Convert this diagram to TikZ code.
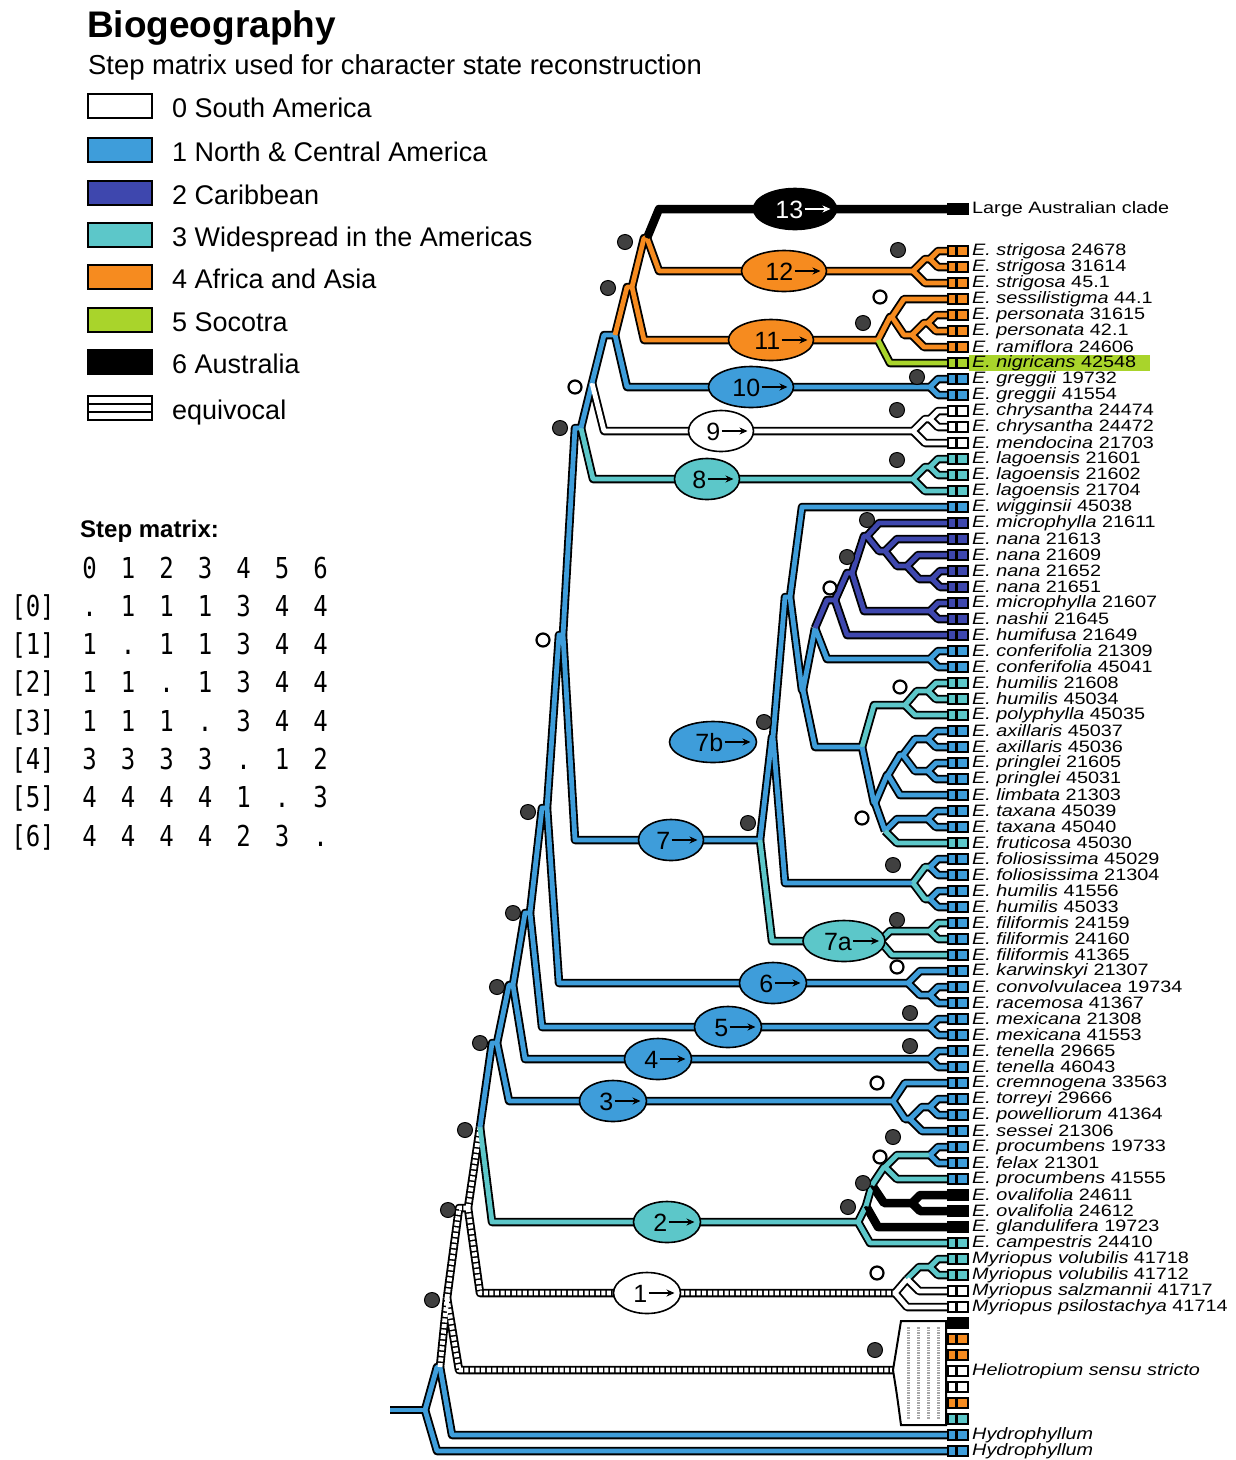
\documentclass[tikz,border=0pt]{standalone}
\usepackage{fontspec}
\setmainfont{Liberation Sans}
\newfontfamily\leaffont[FakeStretch=1.2]{Liberation Sans}
\newfontfamily\mtxfont{DejaVu Sans Mono}
\usetikzlibrary{calc,shapes.geometric,arrows.meta}
\definecolor{cB}{HTML}{3E9DDA}
\definecolor{cD}{HTML}{3E47AE}
\definecolor{cT}{HTML}{5CC7C9}
\definecolor{cO}{HTML}{F68B1F}
\definecolor{cG}{HTML}{A9D42B}
\tikzset{
 eB/.style={draw=cB}, eD/.style={draw=cD}, eT/.style={draw=cT}, eO/.style={draw=cO},
 eG/.style={draw=cG}, eK/.style={draw=black}, eW/.style={draw=white},
 eQ/.style={draw=white, dash pattern=on 4pt off 1.6pt},
 lab/.style={ellipse, draw=black, line width=1.6pt, minimum height=41pt, inner sep=0pt},
 labtxt/.style={font=\fontsize{25}{25}\selectfont, inner sep=0pt, anchor=east},
 labarr/.style={line width=1.6pt, -{Stealth[length=8pt,width=7pt]}},
 bdot/.style={circle, fill=black!75, draw=black, line width=1pt, minimum size=15pt, inner sep=0pt},
 wdot/.style={circle, fill=white, draw=black, line width=2.2pt, minimum size=13pt, inner sep=0pt},
 leaflab/.style={anchor=west, inner sep=0pt, font=\leaffont\fontsize{16.5}{16.5}\selectfont},
 legtxt/.style={anchor=base west, inner sep=0pt, font=\fontsize{27}{27}\selectfont},
 legbox/.style={draw=black, line width=1.5pt},
 mtx/.style={anchor=base, inner sep=0pt, font=\mtxfont\fontsize{24}{24}\selectfont},
}
\newcommand\E[3]{\draw[ecol=#1] let \p1=(#2), \p2=(#3), \n1={min(12pt,abs(\y2-\y1),abs(\x2-\x1))} in (\p1) -- (\x1+\n1,\y2) -- (\p2);}
\newcommand\alledges{%
\E{B}{S0}{R}\E{B}{R}{t1451}\E{B}{R}{N0}\E{B}{N0}{t1435}
\E{Q}{N0}{N1}\E{Q}{N1}{HL}\E{Q}{N1}{N2}\E{Q}{N2}{M0}\E{Q}{N2}{N3}
\E{T}{N3}{Z0}\E{B}{N3}{N4}\E{B}{N4}{Tr0}\E{B}{N4}{N5}\E{B}{N5}{TE}\E{B}{N5}{N6}
\E{B}{N6}{MX}\E{B}{N6}{N7}\E{B}{N7}{K6}\E{B}{N7}{N8}\E{B}{N8}{Sv}\E{B}{N8}{N9}
\E{T}{N9}{L1}\E{B}{N9}{N10}\E{W}{N10}{C1}\E{B}{N10}{N11}\E{B}{N11}{G}\E{O}{N11}{N12}
\E{O}{N12}{P1}\E{O}{N12}{N13}\E{O}{N13}{S1}\E{K}{N13}{t209}
\E{O}{S1}{S2}\E{O}{S2}{t251}\E{O}{S2}{t267}\E{O}{S1}{t283}
\E{O}{P1}{P2}\E{G}{P1}{t363}\E{O}{P2}{t299}\E{O}{P2}{P3}\E{O}{P3}{P4}\E{O}{P3}{t347}\E{O}{P4}{t315}\E{O}{P4}{t331}
\E{B}{G}{t379}\E{B}{G}{t395}
\E{W}{C1}{C2}\E{W}{C2}{t411}\E{W}{C2}{t427}\E{W}{C1}{t443}
\E{T}{L1}{L2}\E{T}{L2}{t459}\E{T}{L2}{t475}\E{T}{L1}{t491}
\E{B}{Sv}{B0}\E{T}{Sv}{A7}\E{B}{B0}{B1}\E{B}{B0}{F0}\E{B}{B1}{t507}\E{B}{B1}{B2}
\E{B}{B2}{K3}\E{B}{B2}{Q0}\E{B}{K3}{CF}\E{B}{CF}{t651}\E{B}{CF}{t667}
\E{D}{K3}{D0}\E{D}{D0}{t635}\E{D}{D0}{D1}\E{D}{D1}{MN}\E{D}{MN}{t603}\E{D}{MN}{t619}
\E{D}{D1}{D2}\E{D}{D2}{t523}\E{D}{D2}{D3}\E{D}{D3}{t539}\E{D}{D3}{D4}\E{D}{D4}{t555}\E{D}{D4}{D5}\E{D}{D5}{t571}\E{D}{D5}{t587}
\E{T}{Q0}{H1}\E{T}{H1}{H2}\E{T}{H2}{t683}\E{T}{H2}{t699}\E{T}{H1}{t715}
\E{B}{Q0}{Q1}\E{B}{Q1}{X0}\E{B}{X0}{X1}\E{B}{X1}{AX}\E{B}{AX}{t731}\E{B}{AX}{t747}\E{B}{X1}{PR}\E{B}{PR}{t763}\E{B}{PR}{t779}\E{B}{X0}{t795}
\E{B}{Q1}{T0}\E{B}{T0}{T2}\E{B}{T2}{t811}\E{B}{T2}{t827}\E{T}{T0}{t843}
\E{T}{F0}{FO}\E{B}{FO}{t859}\E{B}{FO}{t875}\E{T}{F0}{HU}\E{B}{HU}{t891}\E{B}{HU}{t907}
\E{T}{A7}{FP}\E{T}{FP}{t923}\E{T}{FP}{t939}\E{T}{A7}{t955}
\E{B}{K6}{t971}\E{B}{K6}{CR}\E{B}{CR}{t987}\E{B}{CR}{t1003}
\E{B}{MX}{t1019}\E{B}{MX}{t1035}\E{B}{TE}{t1051}\E{B}{TE}{t1067}
\E{B}{Tr0}{t1083}\E{B}{Tr0}{Tr1}\E{B}{Tr1}{Tr2}\E{B}{Tr2}{t1099}\E{B}{Tr2}{t1115}\E{B}{Tr1}{t1131}
\E{T}{Z0}{t1243}\E{T}{Z0}{Z1}\E{K}{Z1}{t1227}\E{T}{Z1}{Z2}\E{K}{Z2}{OV}\E{K}{OV}{t1195}\E{K}{OV}{t1211}
\E{T}{Z2}{Z3}\E{T}{Z3}{PF}\E{B}{PF}{t1147}\E{B}{PF}{t1163}\E{T}{Z3}{t1179}
\E{W}{M0}{M1}\E{W}{M0}{t1307}\E{T}{M1}{VO}\E{W}{M1}{t1291}\E{T}{VO}{t1259}\E{T}{VO}{t1275}
}
% name, x, y, width, fill, textcolor, text
\newcommand\blab[7]{%
\node[lab, minimum width=#4pt, fill=#5] (#1) at (#2,#3) {};
\node[labtxt, text=#6] (#1t) at ($(#1.center)+(#4/2-33,1)$) {#7};
\draw[labarr, draw=#6] ($(#1.center)+(#4/2-32,0)$) -- ($(#1.center)+(#4/2-6,0)$);
}
\begin{document}
\begin{tikzpicture}[x=1pt,y=-1pt]
\useasboundingbox (0,0) rectangle (1236,1460);
% ---------- coordinates ----------
\coordinate (S0) at (390,1410); \coordinate (R) at (425,1410);
\coordinate (N0) at (440,1367); \coordinate (N1) at (447,1298);
\coordinate (N2) at (468,1208); \coordinate (N3) at (480,1127);
\coordinate (N4) at (497,1043); \coordinate (N5) at (513,985);
\coordinate (N6) at (530,913); \coordinate (N7) at (547,808);
\coordinate (N8) at (563,635); \coordinate (N9) at (581,428);
\coordinate (N10) at (592,383); \coordinate (N11) at (615,335);
\coordinate (N12) at (632,287); \coordinate (N13) at (647,238);
\coordinate (HL) at (893,1370);
\coordinate (M0) at (895,1293); \coordinate (M1) at (907,1279); \coordinate (VO) at (930,1267);
\coordinate (Z0) at (858,1222); \coordinate (Z1) at (866,1206); \coordinate (Z2) at (872,1185);
\coordinate (Z3) at (885,1167); \coordinate (PF) at (930,1155); \coordinate (OV) at (912,1203);
\coordinate (Tr0) at (893,1101); \coordinate (Tr1) at (910,1119); \coordinate (Tr2) at (930,1107);
\coordinate (TE) at (930,1059); \coordinate (MX) at (930,1027);
\coordinate (K6) at (908,983); \coordinate (CR) at (930,995);
\coordinate (Sv) at (760,840); \coordinate (A7) at (880,941); \coordinate (FP) at (930,931);
\coordinate (B0) at (773,737); \coordinate (F0) at (913,883);
\coordinate (FO) at (930,867); \coordinate (HU) at (930,899);
\coordinate (B1) at (790,597); \coordinate (B2) at (803,690);
\coordinate (K3) at (815,628); \coordinate (CF) at (930,659);
\coordinate (D0) at (835,600); \coordinate (D1) at (852,573); \coordinate (MN) at (930,611);
\coordinate (D2) at (867,536); \coordinate (D3) at (885,551); \coordinate (D4) at (907,566); \coordinate (D5) at (932,579);
\coordinate (Q0) at (862,747); \coordinate (H1) at (905,705); \coordinate (H2) at (928,691);
\coordinate (Q1) at (875,803); \coordinate (X0) at (888,775); \coordinate (X1) at (903,755);
\coordinate (AX) at (928,739); \coordinate (PR) at (928,771);
\coordinate (T0) at (885,831); \coordinate (T2) at (928,819);
\coordinate (G) at (930,387); \coordinate (C1) at (913,431); \coordinate (C2) at (930,419);
\coordinate (L1) at (913,479); \coordinate (L2) at (930,467);
\coordinate (S1) at (913,271); \coordinate (S2) at (930,259);
\coordinate (P1) at (878,340); \coordinate (P2) at (892,317); \coordinate (P3) at (912,335); \coordinate (P4) at (928,323);
\coordinate (t209) at (950,209);
\foreach \yy in {251,267,...,1451} {\coordinate (t\yy) at (950,\yy);}
% ---------- edges: outline, then fill ----------
\tikzset{ecol/.style={draw=black, line width=8.5pt, line join=round}}
\alledges
\tikzset{ecol/.style={line width=4.8pt, line join=round, e#1}}
\alledges
% ---------- Heliotropium block ----------
\draw[line width=2pt, fill=white] (HL) .. controls (897,1345) .. (901,1321) -- (946,1321) -- (946,1425) -- (901,1425) .. controls (897,1395) .. (HL);
\foreach \xx in {908,918,928,938} {\draw[gray!70, line width=3pt, dash pattern=on 1.5pt off 1pt] (\xx,1327) -- (\xx,1419);}
% ---------- leaf boxes ----------
\foreach \yy/\cc in {209/black,251/cO,267/cO,283/cO,299/cO,315/cO,331/cO,347/cO,363/cG,379/cB,395/cB,411/white,427/white,443/white,459/cT,475/cT,491/cT,507/cB,523/cD,539/cD,555/cD,571/cD,587/cD,603/cD,619/cD,635/cD,651/cB,667/cB,683/cT,699/cT,715/cT,731/cB,747/cB,763/cB,779/cB,795/cB,811/cB,827/cB,843/cT,859/cB,875/cB,891/cB,907/cB,923/cB,939/cB,955/cB,971/cB,987/cB,1003/cB,1019/cB,1035/cB,1051/cB,1067/cB,1083/cB,1099/cB,1115/cB,1131/cB,1147/cB,1163/cB,1179/cB,1195/black,1211/black,1227/black,1243/cT,1259/cT,1275/cT,1291/white,1307/white,1323/black,1339/cO,1355/cO,1371/white,1387/white,1403/cO,1419/cT,1435/cB,1451/cB}
{\filldraw[fill=\cc, draw=black, line width=1.1pt] (948,\yy-5) rectangle (956,\yy+5);
 \filldraw[fill=\cc, draw=black, line width=1.1pt] (957.5,\yy-5) rectangle (968,\yy+5);}
% ---------- branch labels ----------
\blab{e13}{795}{209}{83}{black}{white}{13}
\blab{e12}{784}{271}{85}{cO}{black}{12}
\blab{e11}{771}{340}{85}{cO}{black}{11}
\blab{e10}{751}{387}{85}{cB}{black}{10}
\blab{e9}{721}{431}{65}{white}{black}{9}
\blab{e8}{707}{479}{65}{cT}{black}{8}
\blab{e7b}{713}{742}{87}{cB}{black}{7b}
\blab{e7}{671}{840}{65}{cB}{black}{7}
\blab{e7a}{844}{941}{82}{cT}{black}{7a}
\blab{e6}{773}{983}{67}{cB}{black}{6}
\blab{e5}{728}{1027}{67}{cB}{black}{5}
\blab{e4}{658}{1059}{67}{cB}{black}{4}
\blab{e3}{613}{1101}{67}{cB}{black}{3}
\blab{e2}{667}{1222}{67}{cT}{black}{2}
\blab{e1}{647}{1293}{67}{white}{black}{1}
% ---------- node markers ----------
\foreach \xx/\yy [count=\i] in {898/250,863/323,917/377,897/410,897/460,867/520,847/557,764/722,748/823,893/865,897/920,910/1013,910/1046,893/1137,863/1183,848/1207,875/1350,432/1300,448/1210,465/1130,480/1043,497/987,513/913,528/812,560/428,608/288,625/242}
{\node[bdot] (bd\i) at (\xx,\yy) {};}
\foreach \xx/\yy [count=\i] in {880/297,830/588,900/687,862/818,897/967,877/1083,880/1157,877/1273,543/640,575/387}
{\node[wdot] (wd\i) at (\xx,\yy) {};}
% ---------- taxon labels ----------
\fill[cG] (969,355) rectangle (1150,371);
\node[leaflab] (lab209) at (972,209) {Large Australian clade};
\foreach \yy/\sp/\nn in {251/strigosa/24678,267/strigosa/31614,283/strigosa/45.1,299/sessilistigma/44.1,315/personata/31615,331/personata/42.1,347/ramiflora/24606,363/nigricans/42548,379/greggii/19732,395/greggii/41554,411/chrysantha/24474,427/chrysantha/24472,443/mendocina/21703,459/lagoensis/21601,475/lagoensis/21602,491/lagoensis/21704,507/wigginsii/45038,523/microphylla/21611,539/nana/21613,555/nana/21609,571/nana/21652,587/nana/21651,603/microphylla/21607,619/nashii/21645,635/humifusa/21649,651/conferifolia/21309,667/conferifolia/45041,683/humilis/21608,699/humilis/45034,715/polyphylla/45035,731/axillaris/45037,747/axillaris/45036,763/pringlei/21605,779/pringlei/45031,795/limbata/21303,811/taxana/45039,827/taxana/45040,843/fruticosa/45030,859/foliosissima/45029,875/foliosissima/21304,891/humilis/41556,907/humilis/45033,923/filiformis/24159,939/filiformis/24160,955/filiformis/41365,971/karwinskyi/21307,987/convolvulacea/19734,1003/racemosa/41367,1019/mexicana/21308,1035/mexicana/41553,1051/tenella/29665,1067/tenella/46043,1083/cremnogena/33563,1099/torreyi/29666,1115/powelliorum/41364,1131/sessei/21306,1147/procumbens/19733,1163/felax/21301,1179/procumbens/41555,1195/ovalifolia/24611,1211/ovalifolia/24612,1227/glandulifera/19723,1243/campestris/24410}
{\node[leaflab] (lab\yy) at (972,\yy) {\textit{E.\ \sp}\ \nn};}
\foreach \yy/\sp/\nn in {1259/volubilis/41718,1275/volubilis/41712,1291/salzmannii/41717,1307/psilostachya/41714}
{\node[leaflab] (lab\yy) at (972,\yy) {\textit{Myriopus \sp}\ \nn};}
\node[leaflab] (labhel) at (972,1371) {\textit{Heliotropium sensu stricto}};
\node[leaflab] (lab1435) at (972,1435) {\textit{Hydrophyllum}};
\node[leaflab] (lab1451) at (972,1451) {\textit{Hydrophyllum}};
% ---------- legend ----------
\node[anchor=base west, inner sep=0pt, font=\bfseries\fontsize{37}{37}\selectfont] (title) at (87,37) {Biogeography};
\node[anchor=base west, inner sep=0pt, font=\fontsize{27.4}{27.4}\selectfont] (sub) at (88,74) {Step matrix used for character state reconstruction};
\foreach \yy/\cc/\tt [count=\i] in {106/white/0 South America,150/cB/1 North \& Central America,193/cD/2 Caribbean,235/cT/3 Widespread in the Americas,277/cO/4 Africa and Asia,320/cG/5 Socotra,362/black/6 Australia}
{\filldraw[legbox, fill=\cc] (88,\yy-12) rectangle (152,\yy+12);
 \node[legtxt] (leg\i) at (172,\yy+11) {\tt};}
\filldraw[legbox, fill=white] (88,396) rectangle (152,420);
\draw[line width=1.5pt] (88,404) -- (152,404) (88,412) -- (152,412);
\node[legtxt] (legeq) at (172,419) {equivocal};
% ---------- step matrix ----------
\node[anchor=base west, inner sep=0pt, font=\bfseries\fontsize{24}{24}\selectfont] (smt) at (80,537) {Step matrix:};
\foreach \v [count=\c] in {0,1,2,3,4,5,6}
{\node[mtx] (h\c) at (51+38.5*\c,578) {\scalebox{1}[1.2]{\v}};}
\foreach \r/\row [count=\k] in {0/{.,1,1,1,3,4,4},1/{1,.,1,1,3,4,4},2/{1,1,.,1,3,4,4},3/{1,1,1,.,3,4,4},4/{3,3,3,3,.,1,2},5/{4,4,4,4,1,.,3},6/{4,4,4,4,2,3,.}}
{\node[mtx] (rl\k) at (33,578+38.3*\k) {\scalebox{1}[1.2]{[\r]}};
 \foreach \v [count=\c] in \row {\node[mtx] (m\k\c) at (51+38.5*\c,578+38.3*\k) {\scalebox{1}[1.2]{\v}};}}
\end{tikzpicture}
\end{document}
